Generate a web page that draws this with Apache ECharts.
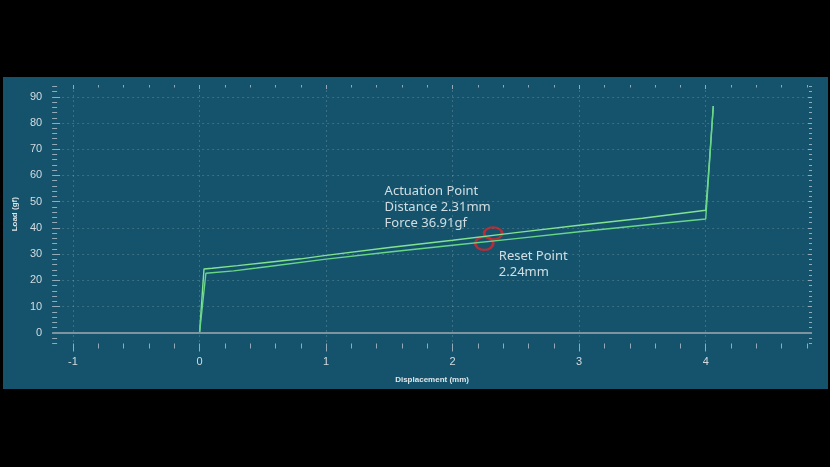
<!DOCTYPE html>
<html>
<head>
<meta charset="utf-8">
<script src="https://cdn.jsdelivr.net/npm/echarts@6/dist/echarts.min.js"></script>
<style>
html, body { margin: 0; padding: 0; background: #000; width: 830px; height: 467px; overflow: hidden; }
#chart { position: absolute; left: 3px; top: 77px; width: 825px; height: 312px; }
</style>
</head>
<body>
<div id="chart"></div>
<script>
// 行程 / 力 (displacement mm, load gf)
var pressCurve = [[0, 0], [0.035, 24.3], [0.1, 24.6], [0.3, 25.6], [0.53, 26.8], [0.8, 28.2],
  [1.0, 29.5], [1.5, 32.5], [2.0, 35.3], [2.5, 38.2], [3.0, 41.0], [3.5, 43.7], [4.0, 46.7],
  [4.03, 66], [4.06, 86.5]];
var releaseCurve = [[4.06, 86.5], [4.0, 43.4], [3.5, 41.0], [3.0, 38.5], [2.5, 35.9], [2.0, 33.4],
  [1.5, 30.8], [1.0, 28.1], [0.53, 25.2], [0.45, 24.7], [0.27, 23.6], [0.05, 22.7], [0, 0]];
var actuationPoint = [[2.32, 37.9]];
var resetPoint = [[2.25, 34.1]];
var actuationText = ['Actuation Point', 'Distance 2.31mm', 'Force 36.91gf'];
var resetText = ['Reset Point', '2.24mm'];

var xMajor = [-1, 0, 1, 2, 3, 4];
var xMinor = [-0.8, -0.6, -0.4, -0.2, 0.2, 0.4, 0.6, 0.8, 1.2, 1.4, 1.6, 1.8, 2.2, 2.4, 2.6, 2.8,
  3.2, 3.4, 3.6, 3.8, 4.2, 4.4, 4.6, 4.8];
var yMajor = [0, 10, 20, 30, 40, 50, 60, 70, 80, 90];
var yMinor = [-4, -2, 2, 4, 6, 8, 12, 14, 16, 18, 22, 24, 26, 28, 32, 34, 36, 38, 42, 44, 46, 48,
  52, 54, 56, 58, 62, 64, 66, 68, 72, 74, 76, 78, 82, 84, 86, 88, 92, 94];

var xMin = -1.165, xMax = 4.84, yMin = -4.1, yMax = 94.5;
var tickColor = '#93abb8';
var gridLine = { show: true, lineStyle: { type: [2, 3], color: 'rgba(255,255,255,0.17)', width: 1 } };

function tickAxis(pos, min, max, values, len, inside) {
  return {
    type: 'value', position: pos, min: min, max: max,
    axisLine: { show: false, onZero: false },
    axisTick: { show: true, customValues: values, length: len, inside: inside, lineStyle: { color: tickColor } },
    axisLabel: { show: false },
    splitLine: { show: false }
  };
}

var xMain = tickAxis('bottom', xMin, xMax, xMajor, 8, false);
xMain.axisLabel = { show: true, customValues: xMajor, color: '#d3dbe1', fontSize: 11, margin: 13, fontFamily: 'Liberation Sans' };
xMain.splitLine = gridLine;
xMain.name = 'Displacement (mm)';
xMain.nameLocation = 'middle';
xMain.nameGap = 32;
xMain.nameTextStyle = { color: '#dfe6ea', fontSize: 8, fontWeight: 'bold', fontFamily: 'Liberation Sans' };

var yMain = tickAxis('left', yMin, yMax, yMajor, 8, true);
yMain.axisLabel = { show: true, customValues: yMajor, color: '#d3dbe1', fontSize: 11, margin: 10, fontFamily: 'Liberation Sans' };
yMain.splitLine = gridLine;
yMain.name = 'Load (gf)';
yMain.nameLocation = 'middle';
yMain.nameGap = 33;
yMain.nameTextStyle = { color: '#dfe6ea', fontSize: 8, fontWeight: 'bold', fontFamily: 'Liberation Sans' };

function pointLabel(lines, pos) {
  return {
    show: true, formatter: lines.join('\n'), position: pos, align: 'left', verticalAlign: 'top',
    color: '#ffffff', fontSize: 13, lineHeight: 16, fontFamily: 'Noto Sans'
  };
}

var chart = echarts.init(document.getElementById('chart'));
chart.setOption({
  backgroundColor: '#14536b',
  animation: false,
  grid: { left: 49, right: 16, top: 8, bottom: 45.5, containLabel: false },
  xAxis: [
    xMain,
    tickAxis('bottom', xMin, xMax, xMinor, 5, false),
    tickAxis('top', xMin, xMax, xMajor, 4, true),
    tickAxis('top', xMin, xMax, xMinor, 2.5, true)
  ],
  yAxis: [
    yMain,
    tickAxis('left', yMin, yMax, yMinor, 5, true),
    tickAxis('right', yMin, yMax, yMajor, 4, true),
    tickAxis('right', yMin, yMax, yMinor, 3, true)
  ],
  series: [
    {
      name: 'press', type: 'line', data: pressCurve, showSymbol: false, silent: true,
      lineStyle: { color: '#82e291', width: 1.4 },
      markLine: {
        silent: true, symbol: 'none', label: { show: false },
        lineStyle: { color: '#7d939e', type: 'solid', width: 2 },
        data: [{ yAxis: 0 }]
      }
    },
    {
      name: 'release', type: 'line', data: releaseCurve, showSymbol: false, silent: true,
      lineStyle: { color: '#68d688', width: 1.4 }
    },
    {
      name: 'actuation', type: 'scatter', data: actuationPoint, symbol: 'circle', symbolSize: [18, 12],
      itemStyle: { color: 'transparent', borderColor: '#d9262c', borderWidth: 2.5 },
      label: pointLabel(actuationText, [-98, -43])
    },
    {
      name: 'reset', type: 'scatter', data: resetPoint, symbol: 'circle', symbolSize: [18, 13],
      itemStyle: { color: 'transparent', borderColor: '#d9262c', borderWidth: 2.5 },
      label: pointLabel(resetText, [25, 13])
    }
  ]
});
</script>
</body>
</html>
